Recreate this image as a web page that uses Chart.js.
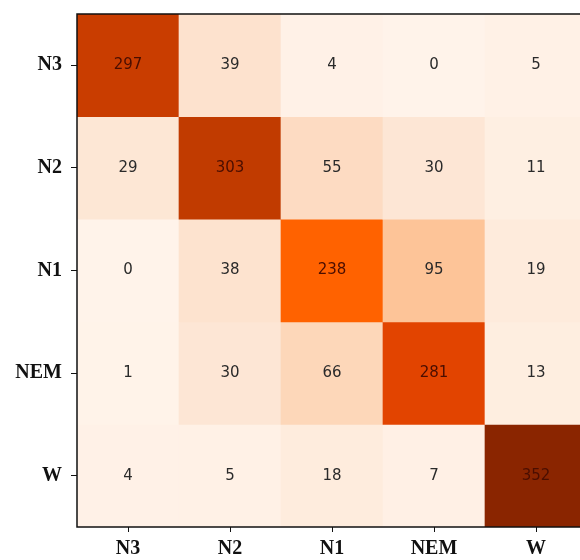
<!DOCTYPE html>
<html>
<head>
<meta charset="utf-8">
<script src="https://cdn.jsdelivr.net/npm/chart.js@4.4.0/dist/chart.umd.min.js"></script>
<style>
  html, body { margin: 0; padding: 0; background: #fff; overflow: hidden; }
  #wrap { width: 587px; height: 560px; }
</style>
</head>
<body>
<div id="wrap"><canvas id="cm" width="587" height="560"></canvas></div>
<script>
// Confusion matrix: rows = true class (top to bottom), columns = predicted class
const classes = ['N3', 'N2', 'N1', 'NEM', 'W'];
const rowN3 = [297, 39, 4, 0, 5];
const rowN2 = [29, 303, 55, 30, 11];
const rowN1 = [0, 38, 238, 95, 19];
const rowNEM = [1, 30, 66, 281, 13];
const rowW = [4, 5, 18, 7, 352];
const rows = [rowN3, rowN2, rowN1, rowNEM, rowW];

// colour ramp tuned to the (saturated) Oranges look of the reference
const ramp = [
  [0, [255, 243, 234]],
  [15, [254, 237, 223]],
  [35, [253, 228, 209]],
  [70, [253, 213, 182]],
  [100, [253, 192, 146]],
  [160, [255, 150, 70]],
  [238, [255, 98, 0]],
  [281, [226, 68, 0]],
  [300, [196, 60, 0]],
  [352, [138, 37, 0]]
];
function cellColor(v) {
  for (let i = 1; i < ramp.length; i++) {
    if (v <= ramp[i][0]) {
      const [a, ca] = ramp[i - 1], [b, cb] = ramp[i];
      const t = (v - a) / (b - a);
      const c = ca.map((x, k) => Math.round(x + (cb[k] - x) * t));
      return `rgb(${c[0]},${c[1]},${c[2]})`;
    }
  }
  const c = ramp[ramp.length - 1][1];
  return `rgb(${c[0]},${c[1]},${c[2]})`;
}

// one floating-bar dataset per row; row 0 sits at the top (y 4..5)
const datasets = rows.map((row, r) => ({
  label: classes[r],
  data: row.map(() => [classes.length - 1 - r, classes.length - r]),
  counts: row,
  backgroundColor: row.map(cellColor),
  borderWidth: 0,
  barPercentage: 1,
  categoryPercentage: 1,
  grouped: false
}));

const cellText = {
  id: 'cellText',
  afterDatasetsDraw(chart) {
    const ctx = chart.ctx;
    ctx.save();
    ctx.font = '15px "DejaVu Sans", sans-serif';
    ctx.textAlign = 'center';
    ctx.textBaseline = 'middle';
    chart.data.datasets.forEach((ds, i) => {
      chart.getDatasetMeta(i).data.forEach((bar, j) => {
        const v = ds.counts[j];
        const y = (bar.y + bar.base) / 2;
        ctx.fillStyle = v > 200 ? '#4a0e00' : '#2a2a2a';
        ctx.fillText(String(v), bar.x, y);
      });
    });
    ctx.restore();
  }
};

const frame = {
  id: 'frame',
  afterDraw(chart) {
    const a = chart.chartArea, ctx = chart.ctx;
    ctx.save();
    ctx.strokeStyle = '#111';
    ctx.lineWidth = 1.5;
    ctx.strokeRect(a.left, a.top, a.right - a.left, a.bottom - a.top);
    ctx.restore();
  }
};

new Chart(document.getElementById('cm').getContext('2d'), {
  type: 'bar',
  data: { labels: classes, datasets },
  options: {
    responsive: false,
    animation: false,
    layout: { padding: { top: 14, right: 0, left: 0, bottom: 0 } },
    plugins: { legend: { display: false }, tooltip: { enabled: false } },
    scales: {
      x: {
        offset: true,
        grid: { offset: false, drawOnChartArea: false, drawTicks: true, tickLength: 5, color: '#111' },
        border: { display: false },
        ticks: {
          color: '#111',
          padding: 5,
          font: { family: '"Liberation Serif", serif', size: 20, weight: 'bold' }
        },
        afterFit(scale) { scale.height = 33; scale.paddingLeft = 0; scale.paddingRight = 0; }
      },
      y: {
        type: 'linear',
        min: 0,
        max: classes.length,
        grid: { drawOnChartArea: false, drawTicks: true, tickLength: 6, color: '#111' },
        border: { display: false },
        afterBuildTicks(scale) {
          scale.ticks = classes.map((_, i) => ({ value: i + 0.5 }));
        },
        ticks: {
          color: '#111',
          padding: 9,
          font: { family: '"Liberation Serif", serif', size: 20, weight: 'bold' },
          callback(v) { return classes[classes.length - 1 - Math.floor(v)]; }
        },
        afterFit(scale) { scale.width = 77; scale.paddingTop = 0; scale.paddingBottom = 0; }
      }
    }
  },
  plugins: [cellText, frame]
});
</script>
</body>
</html>
